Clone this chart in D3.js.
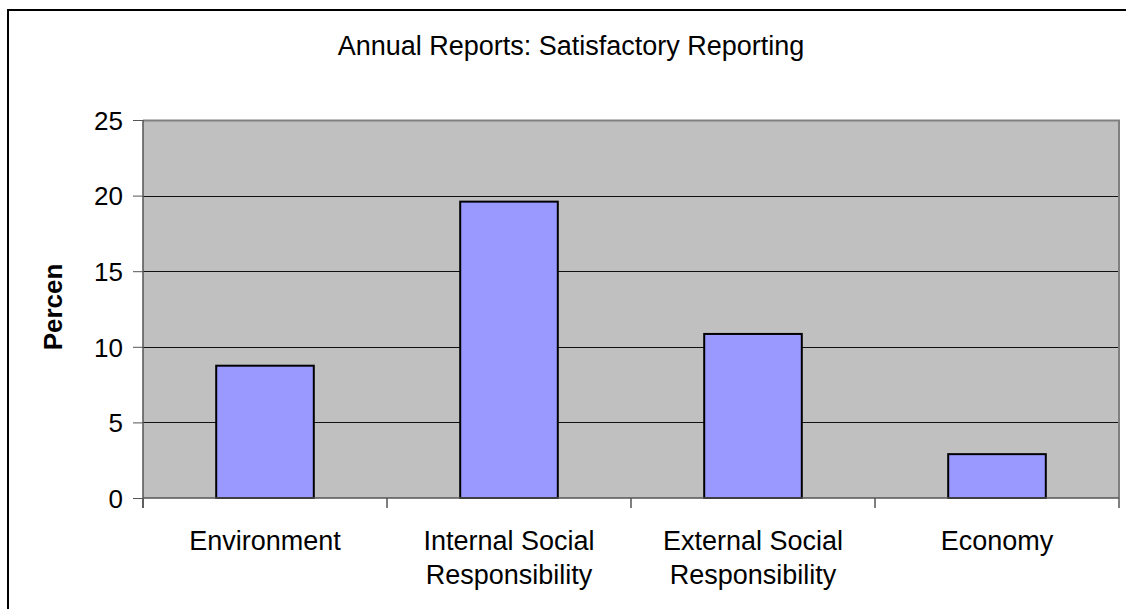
<!DOCTYPE html>
<html>
<head>
<meta charset="utf-8">
<script src="https://cdn.jsdelivr.net/npm/d3@7"></script>
<style>
  html, body { margin: 0; padding: 0; background: #fff; overflow: hidden; }
  svg { display: block; font-family: Arial, "Liberation Sans", sans-serif; }
</style>
</head>
<body>
<svg id="chart" width="1126" height="609"></svg>
<script>
// Share of annual reports with satisfactory reporting, by area (percent)
const categories = [
  ["Environment"],
  ["Internal Social", "Responsibility"],
  ["External Social", "Responsibility"],
  ["Economy"]
];
const categoryKeys = ["Environment", "Internal Social Responsibility", "External Social Responsibility", "Economy"];
const values = [8.75, 19.6, 10.85, 2.9];
const yTicks = [0, 5, 10, 15, 20, 25];
const titleText = "Annual Reports: Satisfactory Reporting";
const yTitleText = "Percen";

const svg = d3.select("#chart");

// Chart frame (runs past the right and bottom edges of the view)
svg.append("rect")
  .attr("x", 8).attr("y", 10)
  .attr("width", 1300).attr("height", 800)
  .attr("fill", "#fff")
  .attr("stroke", "#000").attr("stroke-width", 2);

const plot = { left: 143, right: 1119, top: 120, bottom: 498 };

const x = d3.scaleBand()
  .domain(categoryKeys)
  .range([plot.left, plot.right])
  .paddingInner(0.6)
  .paddingOuter(0.3);

const xCat = d3.scaleBand()
  .domain(categoryKeys)
  .range([plot.left, plot.right])
  .padding(0);

const y = d3.scaleLinear().domain([0, 25]).range([plot.bottom, plot.top]);

// Plot background
svg.append("rect")
  .attr("x", plot.left).attr("y", plot.top)
  .attr("width", plot.right - plot.left).attr("height", plot.bottom - plot.top)
  .attr("fill", "#c0c0c0");

// Horizontal gridlines
svg.append("g")
  .selectAll("line")
  .data(yTicks.filter(d => d > 0 && d < 25))
  .join("line")
  .attr("x1", plot.left).attr("x2", plot.right)
  .attr("y1", d => Math.round(y(d)) + 0.5).attr("y2", d => Math.round(y(d)) + 0.5)
  .attr("stroke", "#111").attr("stroke-width", 1);

// Plot border (top and right)
svg.append("path")
  .attr("d", `M${plot.left},${plot.top + 0.5}H${plot.right}V${plot.bottom}`)
  .attr("fill", "none").attr("stroke", "#808080").attr("stroke-width", 2);

// Bars
svg.append("g")
  .selectAll("rect")
  .data(values)
  .join("rect")
  .attr("x", (d, i) => x(categoryKeys[i]))
  .attr("y", d => y(d))
  .attr("width", x.bandwidth())
  .attr("height", d => y(0) - y(d))
  .attr("fill", "#9999ff")
  .attr("stroke", "#000").attr("stroke-width", 2);

// Y axis
const yAxis = d3.axisLeft(y).tickValues(yTicks).tickSize(10).tickPadding(10).tickFormat(d3.format("d"));
const gy = svg.append("g").attr("transform", `translate(${plot.left},0)`).call(yAxis);
gy.select(".domain").attr("stroke", "#555").attr("stroke-width", 1.5)
  .attr("d", `M0,${plot.top}V${plot.bottom + 10}`);
gy.selectAll(".tick line").attr("stroke", "#555");
gy.selectAll(".tick text")
  .attr("fill", "#000")
  .style("font-size", "26px")
  .style("font-family", "Arial, 'Liberation Sans', sans-serif")
  .attr("dy", "0.36em");

// X axis: boundary ticks between categories
const boundaries = categoryKeys.map(k => xCat(k)).concat([plot.right]);
const gx = svg.append("g");
gx.append("line")
  .attr("x1", plot.left).attr("x2", plot.right)
  .attr("y1", plot.bottom).attr("y2", plot.bottom)
  .attr("stroke", "#555").attr("stroke-width", 1.5);
gx.selectAll("line.tk")
  .data(boundaries)
  .join("line")
  .attr("class", "tk")
  .attr("x1", d => d).attr("x2", d => d)
  .attr("y1", plot.bottom).attr("y2", plot.bottom + 10)
  .attr("stroke", "#555").attr("stroke-width", 1.5);

// Category labels
const labels = gx.selectAll("text.cat")
  .data(categories)
  .join("text")
  .attr("class", "cat")
  .attr("x", (d, i) => xCat(categoryKeys[i]) + xCat.bandwidth() / 2)
  .attr("y", 550)
  .attr("text-anchor", "middle")
  .style("font-size", "27px")
  .attr("fill", "#000");
labels.selectAll("tspan")
  .data(d => d)
  .join("tspan")
  .attr("x", function () { return d3.select(this.parentNode).attr("x"); })
  .attr("dy", (d, i) => i === 0 ? 0 : 34)
  .text(d => d);

// Title
svg.append("text")
  .attr("x", 571).attr("y", 55)
  .attr("text-anchor", "middle")
  .style("font-size", "27px")
  .attr("fill", "#000")
  .text(titleText);

// Y axis title
svg.append("text")
  .attr("transform", `translate(62,307) rotate(-90)`)
  .attr("text-anchor", "middle")
  .style("font-size", "26px")
  .style("font-weight", "bold")
  .attr("fill", "#000")
  .text(yTitleText);
</script>
</body>
</html>
